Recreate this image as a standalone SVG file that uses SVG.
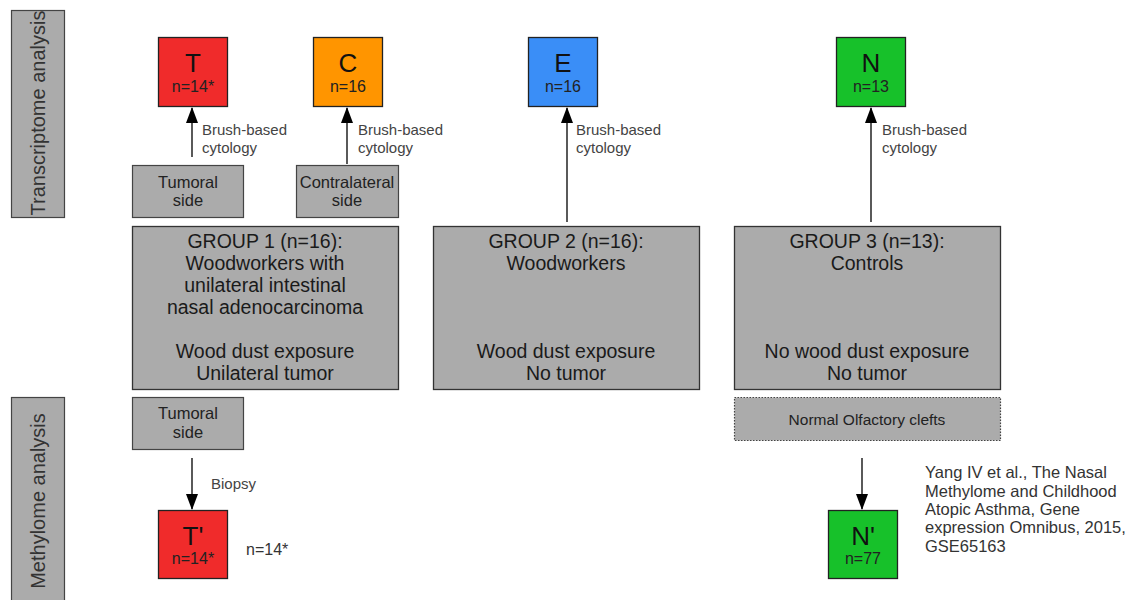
<svg xmlns="http://www.w3.org/2000/svg" width="1131" height="600" viewBox="0 0 1131 600">
<style>
text{font-family:"Liberation Sans",Arial,sans-serif;fill:#111}
.box{fill:#ababab;stroke:#333;stroke-width:1.3}
.side{fill:#ababab;stroke:#444;stroke-width:1.2}
.dot{fill:#ababab;stroke:#444;stroke-width:1.2;stroke-dasharray:1.5 1.5}
.big{font-size:26px;text-anchor:middle}
.n{font-size:16px;text-anchor:middle;fill:#222}
.g{font-size:19.5px;text-anchor:middle;fill:#1a1a1a}
.s{font-size:16.5px;text-anchor:middle;fill:#222}
.lab{font-size:15px;fill:#444}
.ref{font-size:16.5px;fill:#333}
.vert{font-size:20px;text-anchor:middle;fill:#333}
.ln{stroke:#000;stroke-width:1.3;fill:none}
</style>
<defs>
<marker id="ah" markerWidth="16" markerHeight="12" refX="15" refY="6" orient="auto" markerUnits="userSpaceOnUse">
<path d="M0,0 L16,6 L0,12 z" fill="#000"/>
</marker>
</defs>
<rect width="1131" height="600" fill="#fff"/>

<g id="label-transcriptome">
<rect class="side" x="11.5" y="10.5" width="53" height="207"/>
<text class="vert" transform="translate(45,113) rotate(-90)">Transcriptome analysis</text>
</g>
<g id="label-methylome">
<rect class="side" x="11.5" y="397.5" width="53" height="210"/>
<text class="vert" transform="translate(45,501) rotate(-90)">Methylome analysis</text>
</g>

<g id="node-T">
<rect x="158.5" y="37.5" width="69" height="69" fill="#f02b2b" stroke="#222" stroke-width="1.3"/>
<text class="big" x="193" y="72">T</text>
<text class="n" x="193" y="92">n=14*</text>
</g>
<g id="node-C">
<rect x="313.5" y="37.5" width="69" height="69" fill="#ff9500" stroke="#222" stroke-width="1.3"/>
<text class="big" x="348" y="72">C</text>
<text class="n" x="348" y="92">n=16</text>
</g>
<g id="node-E">
<rect x="528.5" y="37.5" width="69" height="69" fill="#3a8ef7" stroke="#222" stroke-width="1.3"/>
<text class="big" x="563" y="72">E</text>
<text class="n" x="563" y="92">n=16</text>
</g>
<g id="node-N">
<rect x="836.5" y="37.5" width="69" height="69" fill="#17c12a" stroke="#222" stroke-width="1.3"/>
<text class="big" x="871" y="72">N</text>
<text class="n" x="871" y="92">n=13</text>
</g>

<g id="node-tumoral-side-1">
<rect class="side" x="132.5" y="165.5" width="111" height="52"/>
<text class="s" x="188" y="188">Tumoral</text>
<text class="s" x="188" y="206">side</text>
</g>
<g id="node-contralateral-side">
<rect class="side" x="296.5" y="165.5" width="102" height="52"/>
<text class="s" x="347" y="188">Contralateral</text>
<text class="s" x="347" y="206">side</text>
</g>

<g id="node-group1">
<rect class="box" x="132.5" y="226.5" width="266" height="163"/>
<text class="g" x="265" y="248">GROUP 1 (n=16):</text>
<text class="g" x="265" y="270">Woodworkers with</text>
<text class="g" x="265" y="292">unilateral intestinal</text>
<text class="g" x="265" y="314">nasal adenocarcinoma</text>
<text class="g" x="265" y="358">Wood dust exposure</text>
<text class="g" x="265" y="380">Unilateral tumor</text>
</g>
<g id="node-group2">
<rect class="box" x="433.5" y="226.5" width="266" height="163"/>
<text class="g" x="566" y="248">GROUP 2 (n=16):</text>
<text class="g" x="566" y="270">Woodworkers</text>
<text class="g" x="566" y="358">Wood dust exposure</text>
<text class="g" x="566" y="380">No tumor</text>
</g>
<g id="node-group3">
<rect class="box" x="734.5" y="226.5" width="266" height="163"/>
<text class="g" x="867" y="248">GROUP 3 (n=13):</text>
<text class="g" x="867" y="270">Controls</text>
<text class="g" x="867" y="358">No wood dust exposure</text>
<text class="g" x="867" y="380">No tumor</text>
</g>

<g id="node-tumoral-side-2">
<rect class="side" x="132.5" y="397.5" width="111" height="52"/>
<text class="s" x="188" y="419">Tumoral</text>
<text class="s" x="188" y="438">side</text>
</g>
<g id="node-olfactory">
<rect class="dot" x="734.5" y="397.5" width="266" height="43"/>
<text class="s" x="867" y="425" style="font-size:15.5px">Normal Olfactory clefts</text>
</g>

<g id="node-Tprime">
<rect x="158.5" y="510.5" width="69" height="68" fill="#f02b2b" stroke="#222" stroke-width="1.3"/>
<text class="big" x="193" y="545">T'</text>
<text class="n" x="193" y="564">n=14*</text>
</g>
<g id="node-Nprime">
<rect x="828.5" y="510.5" width="69" height="68" fill="#17c12a" stroke="#222" stroke-width="1.3"/>
<text class="big" x="863" y="545">N'</text>
<text class="n" x="863" y="564">n=77</text>
</g>

<g id="connectors">
<line class="ln" x1="192" y1="157" x2="192" y2="108" marker-end="url(#ah)"/>
<line class="ln" x1="347" y1="164" x2="347" y2="108" marker-end="url(#ah)"/>
<line class="ln" x1="567" y1="222" x2="567" y2="108" marker-end="url(#ah)"/>
<line class="ln" x1="871" y1="222" x2="871" y2="108" marker-end="url(#ah)"/>
<line class="ln" x1="192" y1="458" x2="192" y2="509" marker-end="url(#ah)"/>
<line class="ln" x1="862" y1="458" x2="862" y2="509" marker-end="url(#ah)"/>
</g>

<g id="labels">
<text class="lab" x="202" y="135">Brush-based</text>
<text class="lab" x="202" y="153">cytology</text>
<text class="lab" x="358" y="135">Brush-based</text>
<text class="lab" x="358" y="153">cytology</text>
<text class="lab" x="576" y="135">Brush-based</text>
<text class="lab" x="576" y="153">cytology</text>
<text class="lab" x="882" y="135">Brush-based</text>
<text class="lab" x="882" y="153">cytology</text>
<text class="lab" x="211" y="489">Biopsy</text>
<text class="ref" x="246" y="555" style="font-size:16px">n=14*</text>
<text class="ref" x="925" y="478">Yang IV et al., The Nasal</text>
<text class="ref" x="925" y="497">Methylome and Childhood</text>
<text class="ref" x="925" y="515">Atopic Asthma, Gene</text>
<text class="ref" x="925" y="533">expression Omnibus, 2015,</text>
<text class="ref" x="925" y="552">GSE65163</text>
</g>
</svg>
